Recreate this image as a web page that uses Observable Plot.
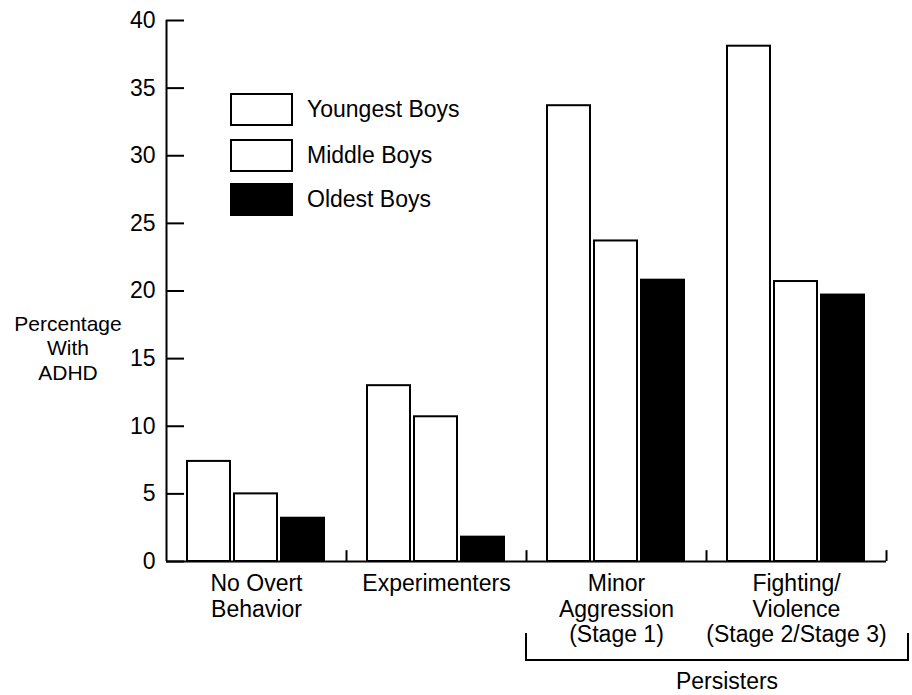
<!DOCTYPE html>
<html>
<head>
<meta charset="utf-8">
<script src="https://cdn.jsdelivr.net/npm/d3@7"></script>
<script src="https://cdn.jsdelivr.net/npm/@observablehq/plot@0.6"></script>
<style>
  body { margin: 0; background: #fff; font-family: "Liberation Sans", Arial, sans-serif; color: #000; }
  #wrap { position: relative; width: 912px; height: 695px; }
  #ylab { position: absolute; left: 0; width: 136px; top: 312px; text-align: center; font-size: 21px; line-height: 24.3px; }
  .sw { position: absolute; left: 230px; width: 63px; height: 33px; box-sizing: border-box; border: 2px solid #000; }
  .lt { position: absolute; left: 307px; font-size: 23px; line-height: 33px; white-space: nowrap; }
</style>
</head>
<body>
<div id="wrap"></div>
<script>
// ---- data ----
const groups = ["No Overt\nBehavior", "Experimenters", "Minor\nAggression\n(Stage 1)", "Fighting/\nViolence\n(Stage 2/Stage 3)"];
const series = ["Youngest Boys", "Middle Boys", "Oldest Boys"];
const youngest = [7.4, 13.0, 33.7, 38.1];
const middle = [5.0, 10.7, 23.7, 20.7];
const oldest = [3.2, 1.8, 20.8, 19.7];
const fills = ["white", "white", "black"];
const yTicks = [0, 5, 10, 15, 20, 25, 30, 35, 40];
const yLabelLines = ["Percentage", "With", "ADHD"];
const bracketLabel = "Persisters";

const values = [youngest, middle, oldest];
const table = groups.flatMap((g, i) => series.map((s, j) => ({group: g, series: s, value: values[j][i]})));

const W = 912, H = 695, mL = 166, mR = 26, mT = 20, mB = 134;
const fw = (W - mL - mR) / groups.length;
const font = '"Liberation Sans", Arial, sans-serif';

const plot = Plot.plot({
  width: W, height: H,
  marginLeft: mL, marginRight: mR, marginTop: mT, marginBottom: mB,
  style: {fontFamily: font, fontSize: "23px", color: "black", background: "white", overflow: "visible"},
  fx: {domain: groups, padding: 0, label: null},
  x: {domain: series, axis: null, paddingInner: 0.085, paddingOuter: 0.457},
  y: {domain: [0, 40], label: null},
  color: {domain: series, range: fills},
  marks: [
    Plot.barY(table, {fx: "group", x: "series", y: "value", fill: "series", stroke: "black", strokeWidth: 2}),
    Plot.ruleY([0], {strokeWidth: 2}),
    Plot.ruleX([groups[0]], {fx: d => d, x: null, y1: 0, y2: 40, dx: -fw / 2, strokeWidth: 2}),
    Plot.ruleX(groups, {fx: d => d, x: null, y1: 0, y2: 0.8, dx: fw / 2, strokeWidth: 2}),
    Plot.axisY(yTicks, {tickSize: -18, tickPadding: 29, strokeWidth: 2, label: null}),
    Plot.axisFx({anchor: "bottom", tickSize: 0, tickPadding: 12, lineHeight: 1.1, label: null})
  ]
});

const wrap = document.getElementById("wrap");
wrap.appendChild(plot);

// bracket for "Persisters"
const fx = plot.scale("fx");
const ys = plot.scale("y");
const y0 = ys.apply(0);
const left = fx.apply(groups[2]);
const right = fx.apply(groups[3]) + fx.bandwidth + 22;
const svg = d3.select(plot.tagName.toLowerCase() === "svg" ? plot : plot.querySelector("svg"));
svg.append("path")
  .attr("d", `M${left},${y0 + 72}V${y0 + 99}H${right}V${y0 + 72}`)
  .attr("fill", "none").attr("stroke", "black").attr("stroke-width", 2);
svg.append("text")
  .attr("x", (left + right) / 2 + 10).attr("y", y0 + 128)
  .attr("text-anchor", "middle")
  .style("font-family", font).style("font-size", "23px")
  .attr("fill", "black")
  .text(bracketLabel);

// y label
const yl = document.createElement("div");
yl.id = "ylab";
yl.innerHTML = yLabelLines.join("<br>");
wrap.appendChild(yl);

// legend
const legendTops = [93, 139, 183];
series.forEach((s, i) => {
  const sw = document.createElement("div");
  sw.className = "sw";
  sw.style.top = legendTops[i] + "px";
  sw.style.background = fills[i];
  wrap.appendChild(sw);
  const t = document.createElement("div");
  t.className = "lt";
  t.style.top = legendTops[i] + "px";
  t.textContent = s;
  wrap.appendChild(t);
});
</script>
</body>
</html>
